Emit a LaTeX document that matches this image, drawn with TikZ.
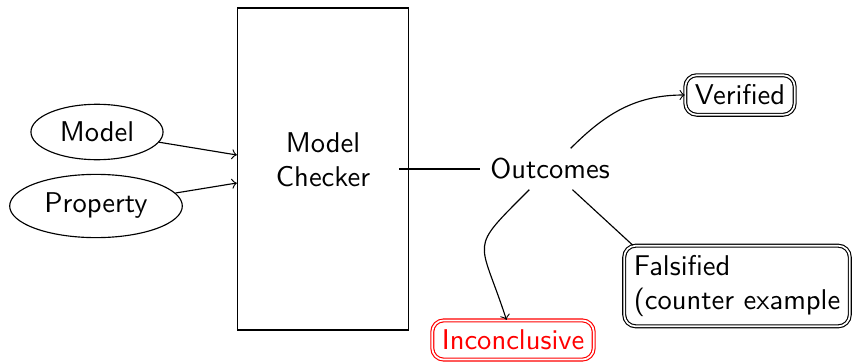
\documentclass[tikz,border=0pt]{standalone}
\usetikzlibrary{shapes.geometric,calc}
\begin{document}
\begin{tikzpicture}[x=0.35pt,y=-0.35pt,font=\sffamily,
  inputnode/.style={ellipse,draw},
  checkerbox/.style={rectangle,draw,minimum width=59.9pt,minimum height=112.7pt},
  result/.style={rectangle,rounded corners,draw,double,align=left},
  link/.style={->}]
\useasboundingbox (0,0) rectangle (852,361);

% inputs
\node[inputnode] (model) at (97,132) {Model};
\node[inputnode] (prop)  at (96,206) {Property};

% the checker
\node[checkerbox] (mc) at (323,169) {};
\node[align=center] (mctext) at (323,159.5) {Model\\Checker};

% outcomes and results
\node (out) at (550,169) {Outcomes};
\node[result] (ver) at (740,95) {Verified};
\node[result] (fal) at (737,286) {Falsified\\(counter example};
\node[result,draw=red,text=red] (inc) at (513,340) {Inconclusive};

% connection points
\coordinate (in1) at ($(mc.west)+(0,-14)$);
\coordinate (in2) at ($(mc.west)+(0,14)$);
\coordinate (mcout) at ($(mc.east)+(-10,0)$);
\coordinate (fcorner) at ($(fal.north west)+(9,0)$);

% connectors
\draw[link] (model) -- (in1);
\draw[link] (prop) -- (in2);
\draw (mcout) -- (out);
\draw[link] (out) to[out=45,in=180] (ver);
\draw (out) -- (fcorner);
\draw[link] (out) to[out=225,in=108,looseness=1.7] (inc);
\end{tikzpicture}
\end{document}
